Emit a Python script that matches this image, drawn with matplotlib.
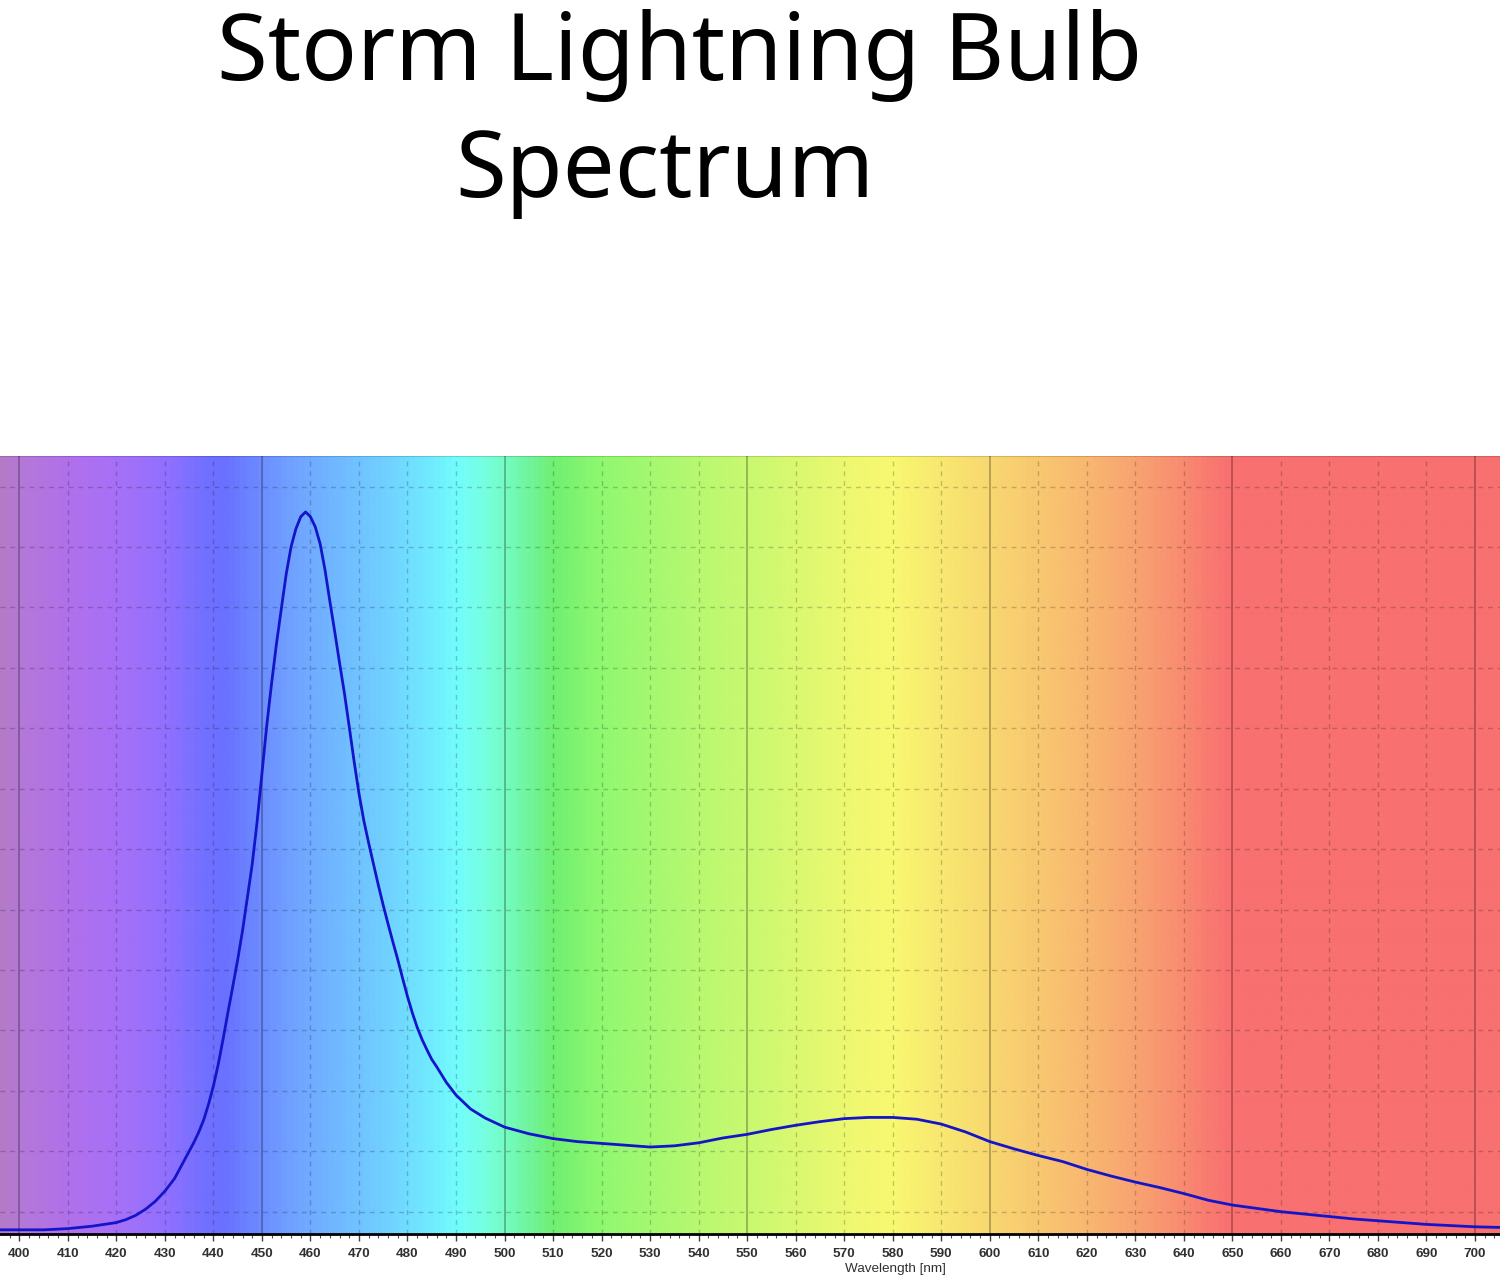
import numpy as np
import matplotlib
matplotlib.use("Agg")
import matplotlib.pyplot as plt
import matplotlib.transforms as mtransforms
from matplotlib.colors import LinearSegmentedColormap
from matplotlib.ticker import MultipleLocator

# ---- data (relative intensity, in grid units) ----
wavelength = [396, 400, 405, 410, 415, 420, 422, 424, 426, 428, 430, 432, 434, 436,
              437, 438, 439, 440, 441, 442, 443, 444, 445, 446, 447, 448, 449, 450,
              451, 452, 453, 454, 455, 456, 457, 458, 459, 460, 461, 462, 463, 464,
              465, 466, 467, 468, 469, 470, 471, 472, 473, 474, 475, 476, 477, 478,
              479, 480, 481, 482, 483, 484, 485, 486, 488, 490, 493, 496, 500, 505,
              510, 515, 520, 525, 530, 535, 540, 545, 550, 555, 560, 565, 570, 575,
              580, 585, 590, 595, 600, 605, 610, 615, 620, 625, 630, 635, 640, 645,
              650, 655, 660, 665, 670, 675, 680, 685, 690, 695, 700, 705.2]
intensity = [-0.30, -0.30, -0.30, -0.28, -0.24, -0.18, -0.13, -0.06, 0.04, 0.17,
             0.34, 0.55, 0.85, 1.15, 1.32, 1.52, 1.78, 2.08, 2.44, 2.86, 3.30, 3.73,
             4.17, 4.65, 5.20, 5.75, 6.45, 7.25, 8.05, 8.75, 9.40, 9.98, 10.55,
             11.00, 11.30, 11.50, 11.58, 11.50, 11.33, 11.05, 10.62, 10.10, 9.60,
             9.08, 8.58, 8.02, 7.45, 6.92, 6.47, 6.10, 5.75, 5.40, 5.07, 4.76, 4.46,
             4.17, 3.86, 3.56, 3.29, 3.05, 2.85, 2.68, 2.52, 2.40, 2.14, 1.93, 1.70,
             1.55, 1.40, 1.29, 1.21, 1.16, 1.13, 1.10, 1.07, 1.09, 1.14, 1.22, 1.28,
             1.36, 1.43, 1.49, 1.54, 1.56, 1.56, 1.53, 1.45, 1.32, 1.16, 1.04, 0.93,
             0.83, 0.70, 0.59, 0.49, 0.40, 0.30, 0.19, 0.11, 0.055, 0.0, -0.04,
             -0.08, -0.12, -0.15, -0.18, -0.21, -0.23, -0.25, -0.26]
tick_values = list(range(400, 701, 10))
title_line1 = "Storm Lightning Bulb"
title_line2 = "Spectrum"
x_label = "Wavelength [nm]"

# ---- background spectrum gradient (style) ----
grad_nm = [396, 400, 410, 420, 430, 438, 442, 446, 455, 465, 475, 485, 490, 495,
           500, 505, 510, 520, 530, 540, 550, 560, 570, 580, 590, 600, 610, 620,
           630, 640, 645, 650, 705.2]
grad_col = ["#b47ac8", "#b478d8", "#b070ec", "#a670f8", "#9070ff", "#7070ff",
            "#6a70ff", "#6a80ff", "#70a0ff", "#70b8ff", "#70d0ff", "#70ecff",
            "#72fcfc", "#76ffe4", "#74fcc0", "#70f49c", "#70f070", "#90f870",
            "#a4f870", "#b8f870", "#c8f870", "#daf870", "#ecf870", "#f8f870",
            "#f8e870", "#f8d870", "#f8c870", "#f8b870", "#f8a470", "#f88c70",
            "#f87c70", "#f87070", "#f87070"]

xmin, xmax = 396.02, 705.15
ymin, ymax = -0.369, 12.51

fig = plt.figure(figsize=(15, 12.78), dpi=100)
ax = fig.add_axes([0.0, 1 - 1234 / 1278, 1.0, (1234 - 455.7) / 1278])

span = grad_nm[-1] - grad_nm[0]
cmap = LinearSegmentedColormap.from_list(
    "spec", [((n - grad_nm[0]) / span, c) for n, c in zip(grad_nm, grad_col)])
xs = np.linspace(xmin, xmax, 1200)
img = cmap((xs - grad_nm[0]) / span)[None, :, :]
ax.imshow(img, extent=[xmin, xmax, ymin, ymax], aspect="auto", zorder=0,
          interpolation="bilinear")

ax.set_xlim(xmin, xmax)
ax.set_ylim(ymin, ymax)

# grid
for w in range(400, 701, 10):
    if w % 50 == 0:
        ax.axvline(w, color="black", alpha=0.28, lw=1.3, zorder=1)
    else:
        ax.axvline(w, color="black", alpha=0.2, lw=1.0,
                   ls=(0, (3.5, 3.5)), zorder=1)
for v in range(0, 13):
    ax.axhline(v, color="black", alpha=0.2, lw=1.0,
               ls=(0, (3.5, 3.5)), zorder=1)
ax.axhline(ymax, color="black", alpha=0.15, lw=1.5, zorder=1)

ax.plot(wavelength, intensity, color="#1414c8", lw=2.0, zorder=3,
        solid_joinstyle="round")

# axes styling
for s in ["left", "right", "top"]:
    ax.spines[s].set_visible(False)
ax.spines["bottom"].set_color("black")
ax.spines["bottom"].set_linewidth(2.0)
ax.set_yticks([])
ax.xaxis.set_minor_locator(MultipleLocator(2))
ax.set_xticks(tick_values)
ax.set_xticklabels([str(t) for t in tick_values])
ax.tick_params(axis="x", which="major", length=5, width=1.0, color="#404040",
               labelsize=9.7, labelcolor="#303030", pad=5)
ax.tick_params(axis="x", which="minor", length=3, width=0.8, color="#505050")
for lab in ax.get_xticklabels():
    lab.set_family("Liberation Sans")
    lab.set_fontweight("bold")

xl = ax.text(580.5, ymin, x_label, ha="center", va="top",
             fontsize=9.7, family="Liberation Sans", color="#303030")
xl.set_transform(ax.transData +
                 mtransforms.ScaledTranslation(0, -29 / 100, fig.dpi_scale_trans))

# title, size fitted to the reference width of the first line (925 px)
t1 = fig.text(680 / 1500, 1 - 80 / 1278, title_line1, ha="center", va="baseline",
              fontsize=72, family="Noto Sans", fontweight="medium", color="black")
fig.canvas.draw()
w = t1.get_window_extent(fig.canvas.get_renderer()).width
fs = 72 * 925 / w
t1.set_fontsize(fs)
fig.text(665 / 1500, 1 - 197 / 1278, title_line2, ha="center", va="baseline",
         fontsize=fs, family="Noto Sans", fontweight="medium", color="black")

fig.savefig("out.png", dpi=100)
